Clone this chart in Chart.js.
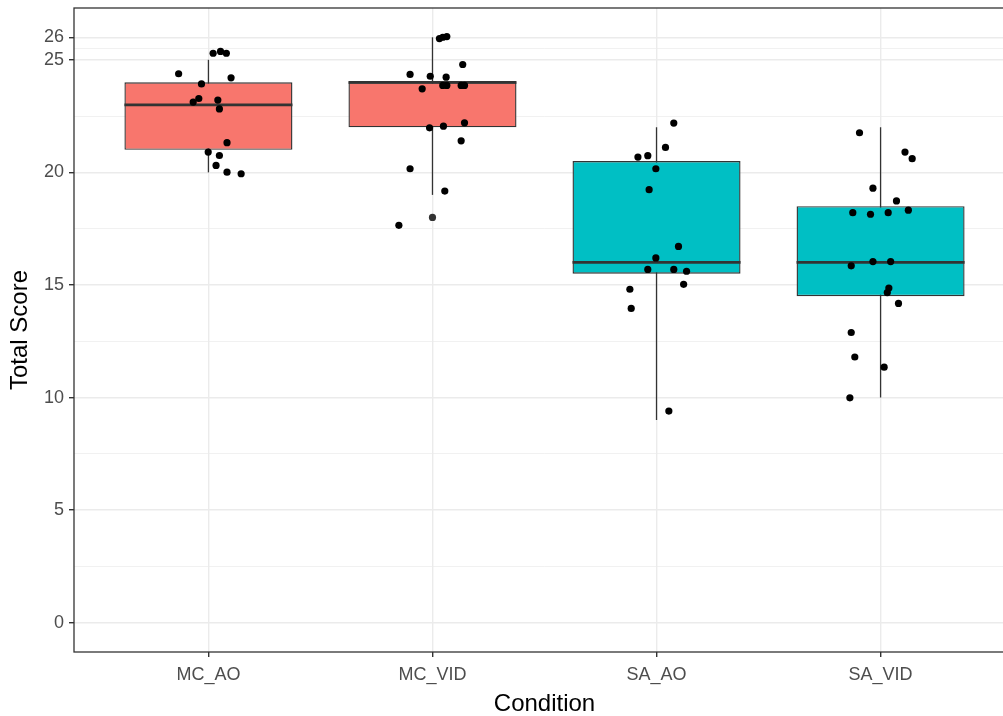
<!DOCTYPE html>
<html lang="en">
<head>
  <meta charset="UTF-8" />
  <title>Total Score by Condition</title>
  <style>
    html, body { margin: 0; padding: 0; background: #fff; overflow: hidden; }
    .chart-box { width: 1030px; height: 716px; }
  </style>
</head>
<body>
  <div class="chart-box"><canvas id="scoreChart"></canvas></div>

  <script src="https://cdn.jsdelivr.net/npm/chart.js"></script>
  <script>
    // data
    const categories = ['MC_AO', 'MC_VID', 'SA_AO', 'SA_VID'];

    const whiskerLow  = [20, 19, 9, 10];
    const boxLow      = [21, 22, 15.5, 14.5];
    const medians     = [23, 24, 16, 16];
    const boxHigh     = [24, 24, 20.5, 18.5];
    const whiskerHigh = [25, 26, 22, 22];

    const outlierGroup = [1];
    const outlierValue = [18];

    // jittered raw scores: horizontal jitter (in category units) and score
    const mcAoJitter = [-0.133, -0.031, 0.021, 0.054, 0.080, 0.101, -0.068, -0.043, 0.042, 0.049, 0.083, -0.001, 0.049, 0.034, 0.083, 0.146];
    const mcAoScores = [24.38, 23.93, 25.29, 25.37, 25.29, 24.2, 23.12, 23.28, 23.21, 22.82, 21.32, 20.9, 20.75, 20.31, 20.01, 19.94];

    const mcVidJitter = [0.031, 0.046, 0.064, 0.135, -0.1, -0.01, 0.061, -0.046, 0.046, 0.064, 0.128, 0.143, -0.013, 0.049, 0.143, 0.128, -0.1, 0.055, -0.15];
    const mcVidScores = [25.94, 26.0, 26.03, 24.79, 24.35, 24.27, 24.23, 23.71, 23.86, 23.86, 23.86, 23.86, 21.98, 22.05, 22.2, 21.4, 20.16, 19.17, 17.65];

    const saAoJitter = [0.077, 0.040, -0.083, -0.039, -0.003, -0.033, 0.098, -0.003, -0.039, 0.077, 0.134, 0.121, -0.119, -0.113, 0.055];
    const saAoScores = [22.19, 21.11, 20.68, 20.74, 20.16, 19.23, 16.71, 16.2, 15.69, 15.69, 15.61, 15.03, 14.81, 13.96, 9.4];

    const saVidJitter = [-0.094, 0.109, 0.141, -0.034, 0.071, -0.124, -0.045, 0.034, 0.124, -0.034, 0.045, -0.131, 0.037, 0.03, 0.08, -0.131, -0.115, 0.016, -0.137];
    const saVidScores = [21.76, 20.9, 20.61, 19.3, 18.73, 18.21, 18.14, 18.21, 18.32, 16.04, 16.04, 15.85, 14.86, 14.66, 14.18, 12.89, 11.8, 11.35, 9.99];

    const yMajorTicks = [0, 5, 10, 15, 20, 25, 26];
    const yMinorTicks = [2.5, 7.5, 12.5, 17.5, 22.5, 25.5];

    // styling
    const fillColors = ['#F8766D', '#F8766D', '#00BFC4', '#00BFC4'];
    const lineGrey = '#333333';
    const gridGrey = '#EBEBEB';
    const boxWidth = 0.75;
    const fontFamily = '"Liberation Sans", Arial, sans-serif';

    const jitterSets = [
      [mcAoJitter, mcAoScores],
      [mcVidJitter, mcVidScores],
      [saAoJitter, saAoScores],
      [saVidJitter, saVidScores]
    ];

    const pointData = [];
    jitterSets.forEach(([dx, ys], i) => {
      ys.forEach((y, k) => pointData.push({ x: i + dx[k], y: y }));
    });

    const datasets = [];

    datasets.push({
      type: 'line',
      order: 0,
      data: pointData,
      showLine: false,
      pointRadius: 3.6,
      pointBackgroundColor: '#000',
      pointBorderWidth: 0
    });

    datasets.push({
      type: 'line',
      order: 1,
      data: outlierGroup.map((g, k) => ({ x: g, y: outlierValue[k] })),
      showLine: false,
      pointRadius: 3.6,
      pointBackgroundColor: lineGrey,
      pointBorderWidth: 0
    });

    categories.forEach((c, i) => {
      datasets.push({
        type: 'line',
        order: 2,
        data: [{ x: i - boxWidth / 2, y: medians[i] }, { x: i + boxWidth / 2, y: medians[i] }],
        borderColor: lineGrey,
        borderWidth: 2.8,
        pointRadius: 0
      });
      datasets.push({
        type: 'line',
        order: 5,
        data: [{ x: i, y: whiskerLow[i] }, { x: i, y: whiskerHigh[i] }],
        borderColor: lineGrey,
        borderWidth: 1.3,
        pointRadius: 0
      });
    });

    datasets.push({
      type: 'bar',
      order: 4,
      data: categories.map((c, i) => ({ x: i, y: [boxLow[i], boxHigh[i]] })),
      backgroundColor: fillColors,
      borderColor: lineGrey,
      borderWidth: 1.4,
      borderSkipped: false,
      barPercentage: boxWidth,
      categoryPercentage: 1,
      grouped: false
    });

    const panelBorder = {
      id: 'panelBorder',
      afterDatasetsDraw(chart) {
        const { ctx, chartArea: a } = chart;
        ctx.save();
        ctx.strokeStyle = lineGrey;
        ctx.lineWidth = 1.3;
        ctx.strokeRect(a.left, a.top, a.right - a.left, a.bottom - a.top);
        ctx.restore();
      }
    };

    const isMajor = v => yMajorTicks.includes(v);

    new Chart(document.getElementById('scoreChart'), {
      type: 'bar',
      data: { datasets },
      plugins: [panelBorder],
      options: {
        responsive: true,
        maintainAspectRatio: false,
        animation: false,
        layout: { padding: { left: 0, right: 15, top: 8, bottom: 0 } },
        plugins: {
          legend: { display: false },
          tooltip: { enabled: false }
        },
        scales: {
          x: {
            type: 'linear',
            min: -0.6,
            max: 3.6,
            offset: false,
            afterBuildTicks: s => { s.ticks = categories.map((c, i) => ({ value: i })); },
            afterFit: s => { s.height = 64; s.paddingLeft = 0; s.paddingRight = 0; },
            ticks: {
              autoSkip: false,
              maxRotation: 0,
              padding: 7,
              color: '#4D4D4D',
              font: { family: fontFamily, size: 18 },
              callback: v => categories[v]
            },
            grid: {
              offset: false,
              color: gridGrey,
              lineWidth: 1.4,
              tickColor: lineGrey,
              tickLength: 5
            },
            border: { display: false },
            title: {
              display: true,
              text: 'Condition',
              color: '#000',
              font: { family: fontFamily, size: 24 },
              padding: { top: 0, bottom: -3 }
            }
          },
          y: {
            type: 'linear',
            min: -1.3,
            max: 27.3,
            afterBuildTicks: s => {
              s.ticks = yMajorTicks.concat(yMinorTicks).sort((a, b) => a - b).map(v => ({ value: v }));
            },
            afterFit: s => { s.width = 74; s.paddingTop = 0; s.paddingBottom = 0; },
            ticks: {
              autoSkip: false,
              padding: 5,
              color: '#4D4D4D',
              font: { family: fontFamily, size: 18 },
              callback: v => isMajor(v) ? String(v) : ''
            },
            grid: {
              color: gridGrey,
              lineWidth: c => isMajor(c.tick.value) ? 1.4 : 0.7,
              tickColor: c => isMajor(c.tick.value) ? lineGrey : 'rgba(0,0,0,0)',
              tickLength: 5
            },
            border: { display: false },
            title: {
              display: true,
              text: 'Total Score',
              color: '#000',
              font: { family: fontFamily, size: 24 },
              padding: { top: 6, bottom: 4 }
            }
          }
        }
      }
    });
  </script>
</body>
</html>
